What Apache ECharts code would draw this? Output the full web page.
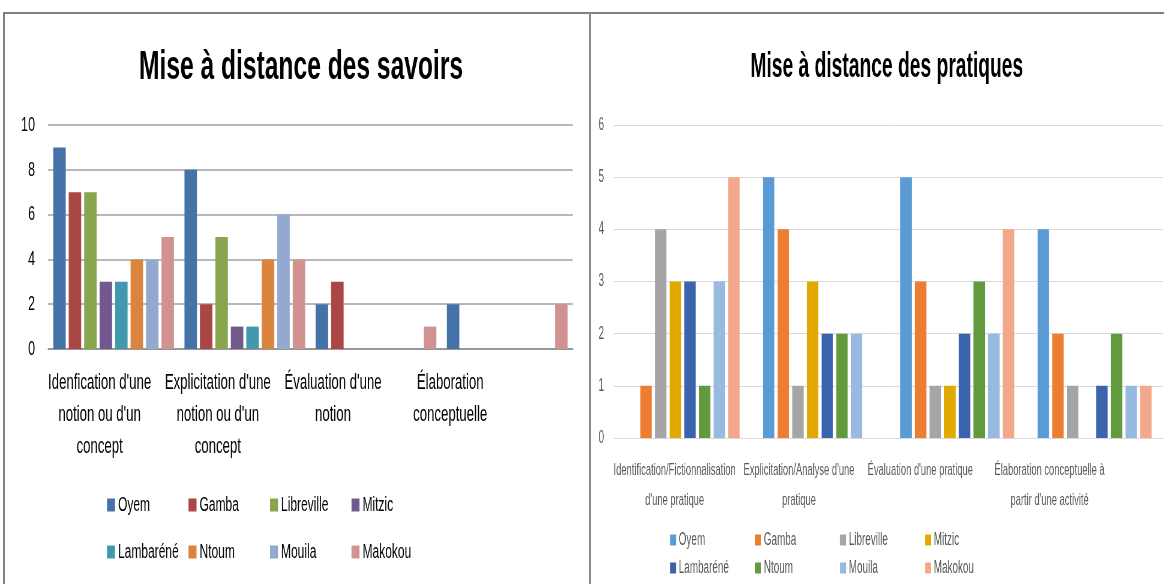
<!DOCTYPE html>
<html>
<head>
<meta charset="utf-8">
<script src="https://cdn.jsdelivr.net/npm/echarts@6/dist/echarts.min.js"></script>
<style>
html, body { margin: 0; padding: 0; background: #fff; overflow: hidden; }
#page { position: relative; width: 1164px; height: 584px; overflow: hidden; }
.panel { position: absolute; top: 0; height: 584px; transform-origin: 0 0; }
#cadre { position: absolute; left: 3px; top: 12px; width: 1161px; height: 572px;
         border-top: 2px solid #808080; border-left: 2px solid #808080; z-index: 2; pointer-events: none; }
#separateur { position: absolute; left: 589px; top: 13px; width: 0; height: 571px;
              border-left: 2px solid #8c8c8c; z-index: 2; pointer-events: none; }
</style>
</head>
<body>
<div id="page">
  <div id="savoirs" class="panel"></div>
  <div id="pratiques" class="panel"></div>
  <div id="cadre"></div>
  <div id="separateur"></div>
</div>
<script>
var FONT = "'Liberation Sans', Arial, sans-serif";

// catégories
var catSavoirs = [
    "Idenfication d'une\nnotion ou d'un\nconcept",
    "Explicitation d'une\nnotion ou d'un\nconcept",
    "Évaluation d'une\nnotion",
    "Élaboration\nconceptuelle"
];
var catPratiques = [
    "Identification/Fictionnalisation\nd'une pratique",
    "Explicitation/Analyse d'une\npratique",
    "Évaluation d'une pratique",
    "Élaboration conceptuelle à\npartir d'une activité"
];
var villes = ['Oyem', 'Gamba', 'Libreville', 'Mitzic', 'Lambaréné', 'Ntoum', 'Mouila', 'Makokou'];
var ticksSavoirs = [0, 2, 4, 6, 8, 10];
var ticksPratiques = [0, 1, 2, 3, 4, 5, 6];

// Mise à distance des savoirs
var savOyem = [9, 8, 2, 2];
var savGamba = [7, 2, 3, 0];
var savLibreville = [7, 5, 0, 0];
var savMitzic = [3, 1, 0, 0];
var savLambarene = [3, 1, 0, 0];
var savNtoum = [4, 4, 0, 0];
var savMouila = [4, 6, 0, 0];
var savMakokou = [5, 4, 1, 2];

// Mise à distance des pratiques
var praOyem = [0, 5, 5, 4];
var praGamba = [1, 4, 3, 2];
var praLibreville = [4, 1, 1, 1];
var praMitzic = [3, 3, 1, 0];
var praLambarene = [3, 2, 2, 1];
var praNtoum = [1, 2, 3, 2];
var praMouila = [3, 2, 2, 1];
var praMakokou = [5, 0, 4, 1];

var savoirs = [savOyem, savGamba, savLibreville, savMitzic, savLambarene, savNtoum, savMouila, savMakokou];
var pratiques = [praOyem, praGamba, praLibreville, praMitzic, praLambarene, praNtoum, praMouila, praMakokou];

var colSavoirs = ['#4572A7', '#AA4643', '#89A54E', '#71588F', '#4198AF', '#DB843D', '#93A9CF', '#D19392'];
var colPratiques = ['#5B9BD5', '#ED7D31', '#A5A5A5', '#E2AA00', '#3B64AD', '#629A3E', '#99BAE0', '#F2A88A'];

// l'image d'origine est comprimée horizontalement : on rend plus large puis on comprime
var S1 = 0.6, S2 = 0.55;
var W1 = 590, W2 = 574;

var elSav = document.getElementById('savoirs');
elSav.style.left = '0px';
elSav.style.width = (W1 / S1) + 'px';
elSav.style.transform = 'scaleX(' + S1 + ')';
var elPra = document.getElementById('pratiques');
elPra.style.left = '590px';
elPra.style.width = (W2 / S2) + 'px';
elPra.style.transform = 'scaleX(' + S2 + ')';

function richFor(pads, s, size, lh, color) {
    var r = {};
    pads.forEach(function (p, i) {
        r['c' + i] = { fontFamily: FONT, fontSize: size, lineHeight: lh, color: color, padding: [0, p / s, 0, 0] };
    });
    return r;
}

function makeSeries(data, colors, gap, catGap) {
    return villes.map(function (v, i) {
        return {
            name: v, type: 'bar', data: data[i],
            barGap: gap, barCategoryGap: catGap,
            itemStyle: { color: colors[i] }
        };
    });
}

// une légende par ville, rangées en 2 lignes de 4 colonnes
function makeLegends(x0, step, tops, s, iw, ih, size, color) {
    return villes.map(function (v, i) {
        return {
            data: [v], icon: 'rect', padding: 0,
            left: (x0 + (i % 4) * step) / s, top: tops[Math.floor(i / 4)],
            itemWidth: iw / s, itemHeight: ih,
            textStyle: { fontFamily: FONT, fontSize: size, color: color }
        };
    });
}

var chartSav = echarts.init(elSav, null, { renderer: 'canvas' });
chartSav.setOption({
    animation: false,
    title: {
        text: 'Mise à distance des savoirs',
        left: 298 / S1, top: 42, textAlign: 'center',
        textStyle: { fontFamily: FONT, fontWeight: 'bold', fontSize: 41, color: '#000' }
    },
    legend: makeLegends(107, 81.5, [495, 542], S1, 8, 13, 20, '#000'),
    grid: { left: 48 / S1, right: (W1 - 573) / S1, top: 125, bottom: 235, outerBoundsMode: 'none' },
    xAxis: {
        type: 'category', data: catSavoirs,
        axisTick: { show: false },
        axisLine: { lineStyle: { color: '#8c8c8c', width: 1.5 } },
        axisLabel: {
            interval: 0, margin: 18,
            formatter: function (v, i) { return '{c' + i + '|' + v + '}'; },
            rich: richFor([28, 54, 86, 114], S1, 22, 32, '#000')
        }
    },
    yAxis: {
        type: 'value',
        min: ticksSavoirs[0], max: ticksSavoirs[ticksSavoirs.length - 1], interval: ticksSavoirs[1] - ticksSavoirs[0],
        axisLine: { show: false }, axisTick: { show: false },
        axisLabel: { margin: 13 / S1, fontFamily: FONT, fontSize: 21, color: '#000' },
        splitLine: { lineStyle: { color: '#a0a0a0', width: 1.5 } }
    },
    series: makeSeries(savoirs, colSavoirs, '24%', '8%')
});

var chartPra = echarts.init(elPra, null, { renderer: 'canvas' });
chartPra.setOption({
    animation: false,
    title: {
        text: 'Mise à distance des pratiques',
        left: (884 - 590) / S2, top: 45, textAlign: 'center',
        textStyle: { fontFamily: FONT, fontWeight: 'bold', fontSize: 35, color: '#000' }
    },
    legend: makeLegends(670 - 590, 85, [531, 559], S2, 6, 11, 18, '#595959'),
    grid: { left: (614 - 590) / S2, right: 1 / S2, top: 125, bottom: 146, outerBoundsMode: 'none' },
    xAxis: {
        type: 'category', data: catPratiques,
        axisTick: { show: false },
        axisLine: { lineStyle: { color: '#d9d9d9' } },
        axisLabel: {
            interval: 0, margin: 17,
            formatter: function (v, i) { return '{c' + i + '|' + v + '}'; },
            rich: richFor([16, 42, 74, 90], S2, 17, 30, '#595959')
        }
    },
    yAxis: {
        type: 'value',
        min: ticksPratiques[0], max: ticksPratiques[ticksPratiques.length - 1], interval: ticksPratiques[1] - ticksPratiques[0],
        axisLine: { show: false }, axisTick: { show: false },
        axisLabel: { margin: 10 / S2, fontFamily: FONT, fontSize: 18, color: '#595959' },
        splitLine: { lineStyle: { color: '#d9d9d9', width: 1 } }
    },
    series: makeSeries(pratiques, colPratiques, '28%', '17%')
});
</script>
</body>
</html>
